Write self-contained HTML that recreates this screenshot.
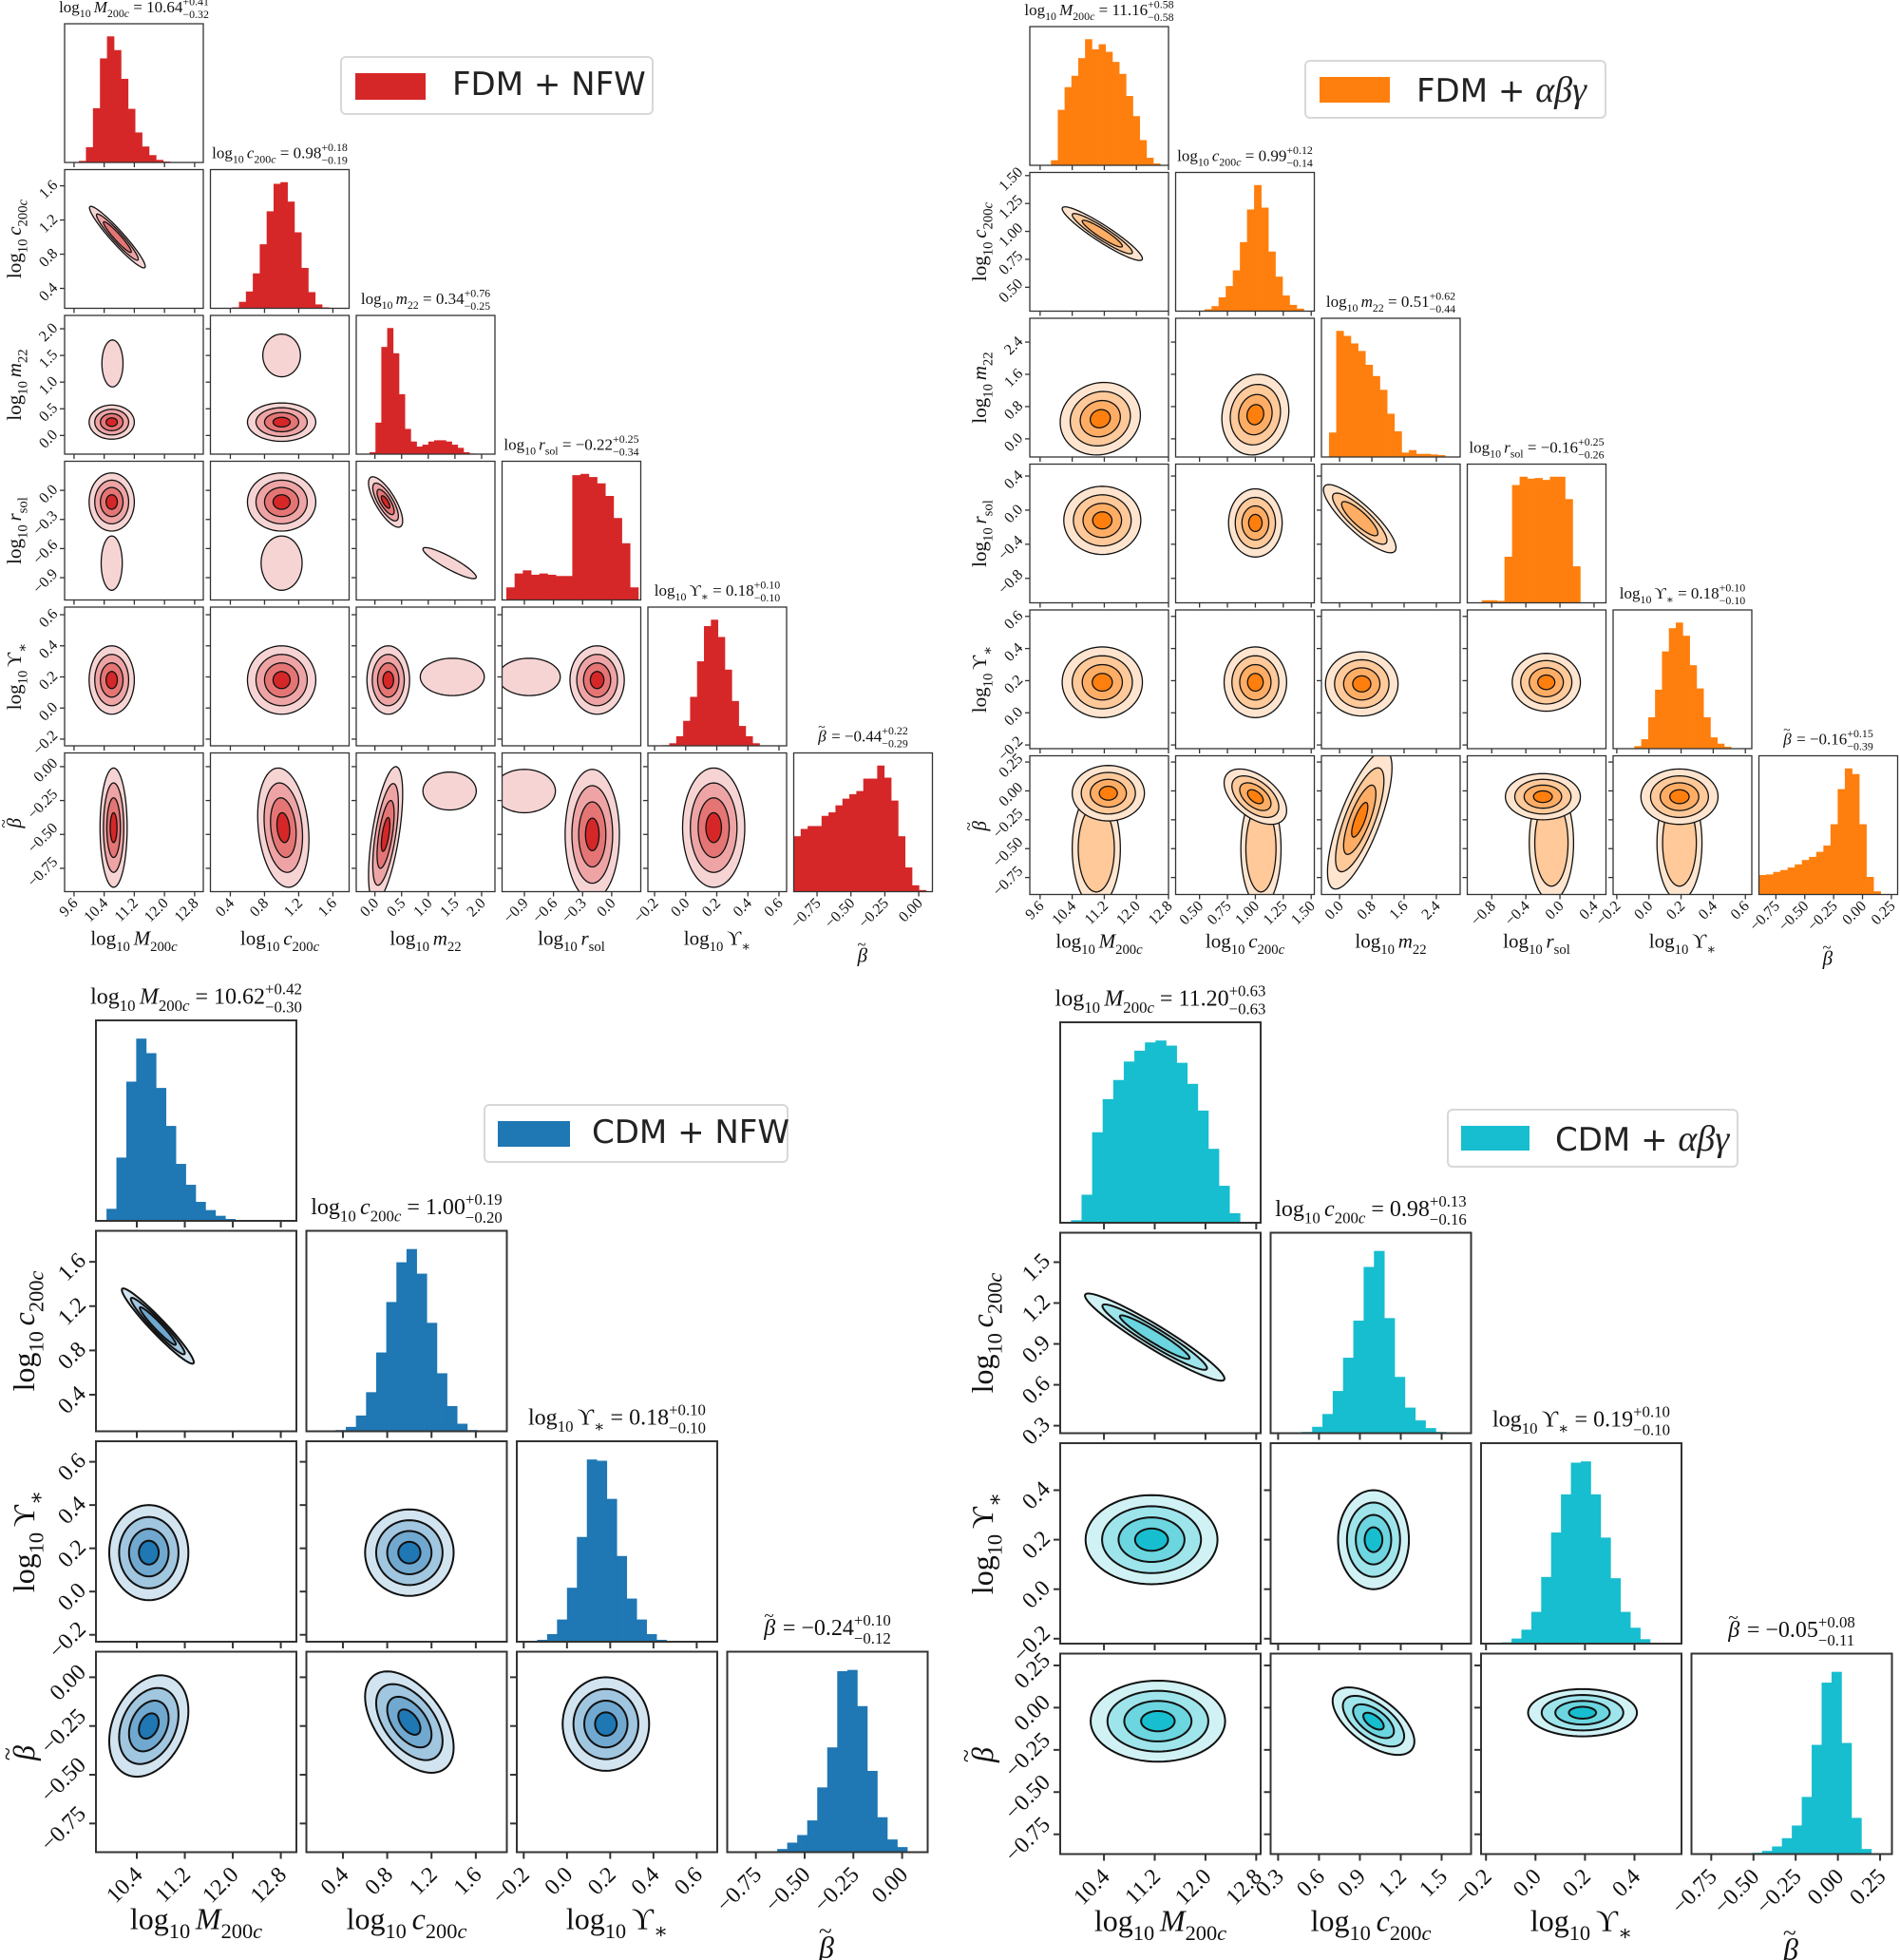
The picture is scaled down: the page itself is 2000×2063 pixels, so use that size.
<!DOCTYPE html>
<html><head><meta charset="utf-8">
<style>
html,body{margin:0;padding:0;background:#fff;}
#wrap{position:relative;width:2000px;height:2063px;overflow:hidden;}
svg{position:absolute;left:0;top:0;}
.legend{position:absolute;border:2px solid #d8d8d8;border-radius:6px;background:#fff;box-sizing:border-box;}
.patch{position:absolute;}
.ltext{position:absolute;font-family:"DejaVu Sans","Liberation Sans",sans-serif;font-size:34px;color:#222;white-space:nowrap;}
.ltext i{font-family:"Liberation Serif",serif;font-size:38px;}
</style></head>
<body>
<div id="wrap">
<svg id="fig" width="2000" height="2063" viewBox="0 0 2000 2063"></svg>

<div class="legend" style="left:358px;top:59px;width:330px;height:62px;">
  <div class="patch" style="left:14px;top:16px;width:74px;height:28px;background:#d62728;"></div>
  <div class="ltext" style="left:116px;top:8px;">FDM + NFW</div>
</div>
<div class="legend" style="left:1373px;top:63px;width:318px;height:62px;">
  <div class="patch" style="left:14px;top:16px;width:74px;height:27px;background:#ff7f0e;"></div>
  <div class="ltext" style="left:116px;top:8px;">FDM + <i>αβγ</i></div>
</div>
<div class="legend" style="left:509px;top:1162px;width:321px;height:62px;">
  <div class="patch" style="left:13px;top:16px;width:76px;height:27px;background:#1f77b4;"></div>
  <div class="ltext" style="left:112px;top:8px;">CDM + NFW</div>
</div>
<div class="legend" style="left:1523px;top:1167px;width:307px;height:62px;">
  <div class="patch" style="left:13px;top:16px;width:72px;height:26px;background:#17becf;"></div>
  <div class="ltext" style="left:112px;top:8px;">CDM + <i>αβγ</i></div>
</div>
</div>

<script>
const labM = ['log','10','M','200','c'];
const labC = ['log','10','c','200','c'];
const labMm = ['log','10','m','22',''];
const labR = ['log','10','r','sol',''];
const labU = ['log','10','ϒ','∗',''];
const labB = ['','','β','',''];

// ---------- FDM + NFW (top-left) ----------
const tlLabels = [labM, labC, labMm, labR, labU, labB];
const tlRanges = [[9.35,13.03],[0.167,1.79],[-0.35,2.25],[-1.13,0.30],[-0.243,0.649],[-0.922,0.101]];
const tlTicks = [['9.6','10.4','11.2','12.0','12.8'],['0.4','0.8','1.2','1.6'],['0.0','0.5','1.0','1.5','2.0'],['−0.9','−0.6','−0.3','0.0'],['−0.2','0.0','0.2','0.4','0.6'],['−0.75','−0.50','−0.25','0.00']];
const tlHistStart = [9.73, 0.42, -0.1, -1.086, -0.15, -0.922];
const tlHistWidth = [0.186, 0.081, 0.11, 0.085, 0.0446, 0.0513];
const tlHistCounts = [
  [5,48,170,326,395,352,262,168,94,50,23,8,3],
  [3,20,52,108,198,300,385,390,330,235,125,50,12,3],
  [3,50,170,200,160,95,40,20,12,15,20,22,22,20,15,10,3,1],
  [20,42,47,40,42,40,38,38,198,200,195,185,165,130,90,20],
  [2,8,30,78,153,264,374,394,340,238,140,62,30,8],
  [174,197,206,206,238,249,271,292,306,316,355,355,396,358,286,174,76,20,5]
];
const tlTitles = [['10.64','+0.41','−0.32'],['0.98','+0.18','−0.19'],['0.34','+0.76','−0.25'],['−0.22','+0.25','−0.34'],['0.18','+0.10','−0.10'],['−0.44','+0.22','−0.29']];
const tlBlobs = [
  [0,1,10.75,1.0,0.37,0.18,-0.95,3],
  [0,2,10.6,0.25,0.3,0.16,0,4],[0,2,10.62,1.35,0.14,0.22,0,1],
  [1,2,1.0,0.25,0.2,0.18,0,4],[1,2,1.0,1.5,0.11,0.2,0,1],
  [0,3,10.6,-0.12,0.3,0.15,0,4],[0,3,10.6,-0.75,0.14,0.14,0,1],
  [1,3,1.0,-0.12,0.2,0.15,0,4],[1,3,1.0,-0.75,0.12,0.14,0,1],
  [2,3,0.2,-0.12,0.16,0.13,-0.75,4],[2,3,1.4,-0.75,0.25,0.08,-0.9,1],
  [0,4,10.6,0.18,0.3,0.11,0,4],[1,4,1.0,0.18,0.2,0.11,0,4],
  [2,4,0.25,0.18,0.2,0.11,0,4],[2,4,1.45,0.2,0.3,0.06,0,1],
  [3,4,-0.15,0.18,0.14,0.11,0,4],[3,4,-0.85,0.2,0.16,0.06,0,1],
  [0,5,10.65,-0.45,0.18,0.22,0,4],[1,5,1.02,-0.45,0.15,0.22,-0.2,4],
  [2,5,0.2,-0.5,0.16,0.25,0.6,4],[2,5,1.4,-0.18,0.25,0.07,0,1],
  [3,5,-0.2,-0.5,0.14,0.24,0,4],[3,5,-0.9,-0.18,0.16,0.08,0,1],
  [4,5,0.18,-0.45,0.1,0.22,0,4]
];

// ---------- FDM + αβγ (top-right) ----------
const trLabels = [labM, labC, labMm, labR, labU, labB];
const trRanges = [[9.343,12.80],[0.286,1.528],[-0.45,2.99],[-1.087,0.54],[-0.223,0.64],[-0.897,0.304]];
const trTicks = [['9.6','10.4','11.2','12.0','12.8'],['0.50','0.75','1.00','1.25','1.50'],['0.0','0.8','1.6','2.4'],['−0.8','−0.4','0.0','0.4'],['−0.2','0.0','0.2','0.4','0.6'],['−0.75','−0.50','−0.25','0.00','0.25']];
const trHistStart = [9.87, 0.544, -0.263, -0.917, -0.091, -0.897];
const trHistWidth = [0.17, 0.0635, 0.18, 0.0888, 0.043, 0.062];
const trHistCounts = [
  [8,88,124,142,170,200,184,192,180,164,145,110,78,40,12,3],
  [3,8,22,40,65,110,162,201,165,95,55,25,10,4],
  [39,201,193,181,169,147,129,107,69,41,7,11,5,5,4,3],
  [4,4,3,72,184,197,194,195,192,197,197,162,57],
  [4,15,50,94,155,192,201,180,133,96,50,18,8,3],
  [31,32,36,39,43,48,55,60,68,78,112,168,201,192,112,28,5]
];
const trTitles = [['11.16','+0.58','−0.58'],['0.99','+0.12','−0.14'],['0.51','+0.62','−0.44'],['−0.16','+0.25','−0.26'],['0.18','+0.10','−0.10'],['−0.16','+0.15','−0.39']];
const trBlobs = [
  [0,1,11.15,0.98,0.5,0.12,-0.93,3],
  [0,2,11.1,0.5,0.5,0.45,0.1,4],
  [1,2,1.0,0.6,0.15,0.5,0.1,4],
  [0,3,11.15,-0.12,0.48,0.2,0,4],
  [1,3,1.0,-0.15,0.12,0.2,0,4],
  [2,3,0.5,-0.1,0.45,0.2,-0.85,3],
  [0,4,11.15,0.19,0.5,0.11,0,4],
  [1,4,1.0,0.19,0.14,0.11,0,4],
  [2,4,0.55,0.18,0.45,0.1,0,4],
  [3,4,-0.16,0.19,0.2,0.09,0,4],
  [0,5,11.0,-0.5,0.3,0.25,0,2],[0,5,11.3,-0.02,0.45,0.12,0,4],
  [1,5,1.05,-0.5,0.09,0.25,0,2],[1,5,1.0,-0.05,0.14,0.12,-0.5,4],
  [2,5,0.5,-0.25,0.4,0.3,0.75,4],
  [3,5,-0.1,-0.45,0.13,0.25,0,2],[3,5,-0.2,-0.05,0.22,0.1,0,4],
  [4,5,0.19,-0.45,0.07,0.25,0,2],[4,5,0.19,-0.05,0.12,0.12,0,4]
];

// ---------- CDM + NFW (bottom-left) ----------
const blLabels = [labM, labC, labU, labB];
const blRanges = [[9.719,13.06],[0.07,1.88],[-0.232,0.695],[-0.897,0.131]];
const blTicks = [['10.4','11.2','12.0','12.8'],['0.4','0.8','1.2','1.6'],['−0.2','0.0','0.2','0.4','0.6'],['−0.75','−0.50','−0.25','0.00']];
const blHistStart = [9.895, 0.335, -0.138, -0.692];
const blHistWidth = [0.165, 0.0913, 0.046, 0.0513];
const blHistCounts = [
  [19,100,220,288,265,210,150,90,57,30,17,8,3],
  [2,7,25,62,125,205,268,289,250,172,92,40,12,2],
  [3,12,35,85,165,287,285,225,135,68,35,12,3],
  [1,5,15,27,50,102,165,285,287,230,128,55,20,8]
];
const blTitles = [['10.62','+0.42','−0.30'],['1.00','+0.19','−0.20'],['0.18','+0.10','−0.10'],['−0.24','+0.10','−0.12']];
const blBlobs = [
  [0,1,10.75,1.02,0.3,0.17,-0.96,3],
  [0,2,10.6,0.18,0.33,0.11,0,4],
  [1,2,1.0,0.18,0.2,0.1,0,4],
  [0,3,10.6,-0.25,0.33,0.13,0.3,4],
  [1,3,1.0,-0.23,0.2,0.13,-0.5,4],
  [2,3,0.18,-0.24,0.1,0.12,0,4]
];

// ---------- CDM + αβγ (bottom-right) ----------
const brLabels = [labM, labC, labU, labB];
const brRanges = [[9.71,12.87],[0.245,1.716],[-0.22,0.59],[-0.867,0.32]];
const brTicks = [['10.4','11.2','12.0','12.8'],['0.3','0.6','0.9','1.2','1.5'],['−0.2','0.0','0.2','0.4'],['−0.75','−0.50','−0.25','0.00','0.25']];
const brHistStart = [9.88, 0.474, -0.137, -0.508];
const brHistWidth = [0.1665, 0.0756, 0.04, 0.0588];
const brHistCounts = [
  [4,44,142,194,224,253,270,283,286,278,251,218,176,116,58,15],
  [2,10,30,66,118,176,260,285,180,88,40,20,8,2],
  [2,8,22,50,105,175,235,285,287,235,167,103,50,25,7],
  [2,5,12,25,45,90,172,270,287,175,57,8]
];
const brTitles = [['11.20','+0.63','−0.63'],['0.98','+0.13','−0.16'],['0.19','+0.10','−0.10'],['−0.05','+0.08','−0.11']];
const brBlobs = [
  [0,1,11.2,0.95,0.55,0.16,-0.95,3],
  [0,2,11.15,0.2,0.52,0.09,0,4],
  [1,2,1.0,0.2,0.13,0.1,0,4],
  [0,3,11.25,-0.08,0.53,0.12,0,4],
  [1,3,1.0,-0.08,0.15,0.1,-0.6,4],
  [2,3,0.19,-0.03,0.11,0.07,0,4]
];

const ringRadii = [2.0, 1.5, 1.0, 0.5];
const ringShade = [0.2, 0.42, 0.64, 1.0];

const NS = 'http://www.w3.org/2000/svg';
const svg = document.getElementById('fig');
function mk(tag, parent) { const e = document.createElementNS(NS, tag); parent.appendChild(e); return e; }
function num(s) { return parseFloat(s.replace('−', '-')); }
function mix(hex, t) {
  const r = parseInt(hex.substr(1,2),16), g = parseInt(hex.substr(3,2),16), b = parseInt(hex.substr(5,2),16);
  const f = c => Math.round(255 + (c - 255) * t);
  return 'rgb(' + f(r) + ',' + f(g) + ',' + f(b) + ')';
}
const serif = '"Liberation Serif","DejaVu Serif",serif';
function charW(s) { let w = 0; for (const ch of s) { w += (ch === '.' ? 0.25 : (ch === '+' || ch === '−') ? 0.56 : 0.5); } return w; }

function addSpan(t, txt, fs, dy, dx, italic) {
  const s = mk('tspan', t);
  s.textContent = txt;
  s.setAttribute('font-size', fs);
  if (dy) s.setAttribute('dy', dy);
  if (dx) s.setAttribute('dx', dx);
  if (italic) s.setAttribute('font-style', 'italic');
  return s;
}
function mathText(parent, x, y, lab, fs, anchor, value, rot, name) {
  const t = mk('text', parent);
  
  
  t.setAttribute('x', x); t.setAttribute('y', y);
  t.setAttribute('font-family', serif);
  t.setAttribute('fill', '#111');
  t.setAttribute('text-anchor', anchor);
  if (rot) t.setAttribute('transform', 'rotate(' + rot + ' ' + x + ' ' + y + ')');
  let shift = 0;
  const sfs = fs * 0.7;
  if (lab[0]) {
    addSpan(t, lab[0], fs, 0, 0, false);
    addSpan(t, lab[1], sfs, fs * 0.3, 0, false); shift = fs * 0.3;
  }
  addSpan(t, lab[2], fs, -shift, lab[0] ? fs * 0.18 : 0, lab[2] !== 'ϒ'); shift = 0;
  if (lab[2] === 'β') {
    addSpan(t, '~', fs * 0.8, -fs * 0.62, -fs * 0.5, false);
    shift = -fs * 0.62;
    addSpan(t, '\u200a', fs, -shift, fs * 0.05, false); shift = 0;
  }
  if (lab[3]) { addSpan(t, lab[3], sfs, fs * 0.3, 0, false); shift = fs * 0.3; }
  if (lab[4]) { addSpan(t, lab[4], sfs, 0, 0, true); }
  if (value) {
    addSpan(t, ' = ' + value[0], fs, -shift, 0, false);
    addSpan(t, value[1], sfs, -fs * 0.42, 0, false);
    addSpan(t, value[2], sfs, fs * 0.78, -charW(value[1]) * sfs, false);
  }
  return t;
}

let clipId = 0;
function drawCorner(P) {
  const g = mk('g', svg);
  
  
  const n = P.ranges.length;
  const colL = j => P.x0 + j * P.px;
  const rowT = i => P.y0 + i * P.py;
  const X = (j, v) => colL(j) + (v - P.ranges[j][0]) / (P.ranges[j][1] - P.ranges[j][0]) * P.w;
  const Y = (i, v) => rowT(i) + P.h - (v - P.ranges[i][0]) / (P.ranges[i][1] - P.ranges[i][0]) * P.h;

  for (let i = 0; i < n; i++) {
    for (let j = 0; j <= i; j++) {
      const L = colL(j), T = rowT(i);
      const pg = mk('g', g);
      
      
      const cp = mk('clipPath', pg);
      const cid = 'cp' + (clipId++);
      cp.setAttribute('id', cid);
      const cr = mk('rect', cp);
      cr.setAttribute('x', L); cr.setAttribute('y', T); cr.setAttribute('width', P.w); cr.setAttribute('height', P.h);
      const content = mk('g', pg);
      content.setAttribute('clip-path', 'url(#' + cid + ')');
      
      
      if (i === j) {
        const counts = P.hist[j];
        const mx = Math.max(...counts) * 1.1;
        counts.forEach((c, k) => {
          const a = P.hstart[j] + k * P.hwidth[j];
          const b = a + P.hwidth[j];
          const xa = X(j, a), xb = X(j, b);
          const yt = T + P.h - c / mx * P.h;
          const r = mk('rect', content);
          
          
          r.setAttribute('x', xa); r.setAttribute('y', yt);
          r.setAttribute('width', Math.max(0, xb - xa + 0.4)); r.setAttribute('height', T + P.h - yt);
          r.setAttribute('fill', P.color);
        });
      } else {
        P.blobs.filter(b => b[0] === j && b[1] === i).forEach(b => {
          const [bx, by, cx, cy, sx, sy, rho, rings] = b;
          for (let k = 0; k < rings; k++) {
            const rad = ringRadii[k];
            let d = '';
            for (let s = 0; s <= 72; s++) {
              const th = s / 72 * 2 * Math.PI;
              const u = rad * Math.cos(th), v = rad * Math.sin(th);
              const dx = cx + sx * u;
              const dy = cy + sy * (rho * u + Math.sqrt(1 - rho * rho) * v);
              d += (s ? 'L' : 'M') + X(j, dx).toFixed(2) + ',' + Y(i, dy).toFixed(2);
            }
            const p = mk('path', content);
            
            
            p.setAttribute('d', d + 'Z');
            p.setAttribute('fill', mix(P.color, ringShade[k]));
            p.setAttribute('stroke', '#111');
            p.setAttribute('stroke-width', P.cw);
          }
        });
      }
      const fr = mk('rect', pg);
      
      
      fr.setAttribute('x', L); fr.setAttribute('y', T); fr.setAttribute('width', P.w); fr.setAttribute('height', P.h);
      fr.setAttribute('fill', 'none'); fr.setAttribute('stroke', '#333'); fr.setAttribute('stroke-width', P.fw);

      P.ticks[j].forEach(lbl => {
        const v = num(lbl);
        const tx = X(j, v);
        if (tx < L - 0.5 || tx > L + P.w + 0.5) return;
        const tk = mk('line', pg);
        
        
        tk.setAttribute('x1', tx); tk.setAttribute('x2', tx);
        tk.setAttribute('y1', T + P.h); tk.setAttribute('y2', T + P.h + P.tl);
        tk.setAttribute('stroke', '#333'); tk.setAttribute('stroke-width', P.fw);
        if (i === n - 1) {
          const px = tx + P.fs * 0.3, py = T + P.h + P.tl + P.fs * P.tko;
          const tt = mk('text', pg);
          
          
          tt.setAttribute('x', px); tt.setAttribute('y', py);
          tt.setAttribute('text-anchor', 'end');
          tt.setAttribute('font-family', serif); tt.setAttribute('font-size', P.fs); tt.setAttribute('fill', '#111');
          tt.setAttribute('transform', 'rotate(-45 ' + px + ' ' + py + ')');
          tt.textContent = lbl;
        }
      });
      if (i !== j) {
        P.ticks[i].forEach(lbl => {
          const v = num(lbl);
          const ty = Y(i, v);
          if (ty < T - 0.5 || ty > T + P.h + 0.5) return;
          const tk = mk('line', pg);
          
          
          tk.setAttribute('x1', L - P.tl); tk.setAttribute('x2', L);
          tk.setAttribute('y1', ty); tk.setAttribute('y2', ty);
          tk.setAttribute('stroke', '#333'); tk.setAttribute('stroke-width', P.fw);
          if (j === 0) {
            const len = charW(lbl) * P.fs;
            const px = L - P.tl - P.fs * 0.1, py = ty - len * 0.354 + P.fs * 0.45;
            const tt = mk('text', pg);
            
            
            tt.setAttribute('x', px); tt.setAttribute('y', py);
            tt.setAttribute('text-anchor', 'end');
            tt.setAttribute('font-family', serif); tt.setAttribute('font-size', P.fs); tt.setAttribute('fill', '#111');
            tt.setAttribute('transform', 'rotate(-45 ' + px + ' ' + py + ')');
            tt.textContent = lbl;
          }
        });
      }
    }
    mathText(g, colL(i) + P.w / 2, rowT(i) - P.tfs * 0.72, P.labels[i], P.tfs, 'middle', P.titles[i], 0, 'title-' + i);
    const bottom = rowT(n - 1) + P.h;
    mathText(g, colL(i) + P.w / 2, bottom + P.xlo + (i === n - 1 ? P.lastExtra : 0), P.labels[i], P.lfs, 'middle', null, 0, 'x-axis-label-' + i);
    if (i > 0) {
      mathText(g, P.ylx, rowT(i) + P.h / 2, P.labels[i], P.lfs, 'middle', null, -90, 'y-axis-label-' + i);
    }
  }
}

drawCorner({name:'corner-fdm-nfw', x0:68, y0:25, w:146, h:146, px:153.5, py:153.5, tl:5, fs:16, tko:0.5, lfs:21, tfs:17, xlo:56, lastExtra:18, ylx:22, fw:1.3, cw:1.3, color:'#d62728',
  labels:tlLabels, ranges:tlRanges, ticks:tlTicks, hist:tlHistCounts, hstart:tlHistStart, hwidth:tlHistWidth, titles:tlTitles, blobs:tlBlobs});
drawCorner({name:'corner-fdm-abg', x0:1084, y0:28, w:146, h:146, px:153.5, py:153.5, tl:5, fs:16, tko:0.5, lfs:21, tfs:17, xlo:56, lastExtra:18, ylx:1038, fw:1.3, cw:1.3, color:'#ff7f0e',
  labels:trLabels, ranges:trRanges, ticks:trTicks, hist:trHistCounts, hstart:trHistStart, hwidth:trHistWidth, titles:trTitles, blobs:trBlobs});
drawCorner({name:'corner-cdm-nfw', x0:101, y0:1074, w:211, h:211, px:221.5, py:221.5, tl:7, fs:24, tko:0.75, lfs:32, tfs:24, xlo:81, lastExtra:30, ylx:36, fw:2, cw:2, color:'#1f77b4',
  labels:blLabels, ranges:blRanges, ticks:blTicks, hist:blHistCounts, hstart:blHistStart, hwidth:blHistWidth, titles:blTitles, blobs:blBlobs});
drawCorner({name:'corner-cdm-abg', x0:1116, y0:1076, w:211, h:211, px:221.5, py:221.5, tl:7, fs:24, tko:0.75, lfs:32, tfs:24, xlo:81, lastExtra:30, ylx:1045, fw:2, cw:2, color:'#17becf',
  labels:brLabels, ranges:brRanges, ticks:brTicks, hist:brHistCounts, hstart:brHistStart, hwidth:brHistWidth, titles:brTitles, blobs:brBlobs});
</script>
</body></html>
